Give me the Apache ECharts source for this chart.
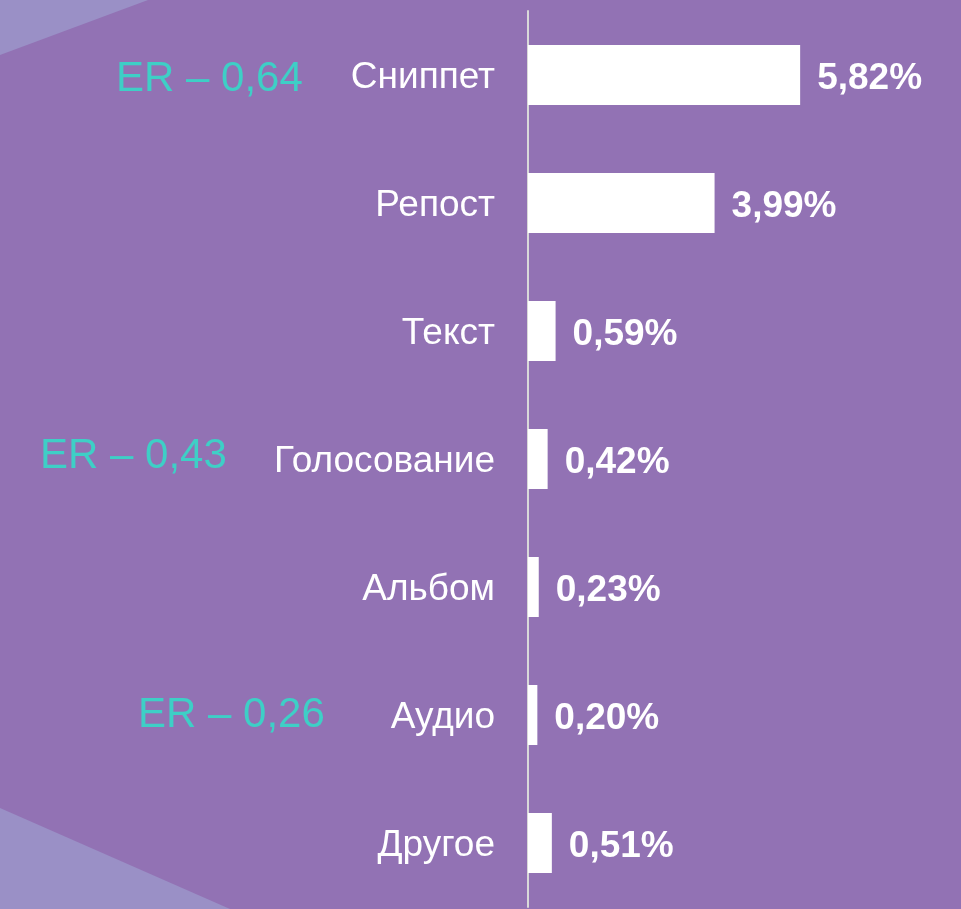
<!DOCTYPE html>
<html>
<head>
<meta charset="utf-8">
<script src="https://cdn.jsdelivr.net/npm/echarts@6/dist/echarts.min.js"></script>
<style>
  html, body { margin: 0; padding: 0; background: #9272b4; }
  #chart { width: 961px; height: 909px; }
</style>
</head>
<body>
<div id="chart"></div>
<script>
// категории и значения
var categories = ['Сниппет', 'Репост', 'Текст', 'Голосование', 'Альбом', 'Аудио', 'Другое']
var shares = [5.82, 3.99, 0.59, 0.42, 0.23, 0.20, 0.51]
// ER подписи слева
var erCategories = ['Сниппет', 'Голосование', 'Аудио']
var erValues = [0.64, 0.43, 0.26]

var chart = echarts.init(document.getElementById('chart'))
var fmt = function (v) { return v.toFixed(2).replace('.', ',') }

chart.setOption({
  backgroundColor: '#9272b4',
  animation: false,
  grid: { left: 528, top: 11, right: 0, height: 896 },
  xAxis: {
    type: 'value',
    min: 0,
    max: 9.26,
    show: false
  },
  yAxis: {
    type: 'category',
    data: categories,
    inverse: true,
    axisLine: { show: true, lineStyle: { color: '#d9d9d9', width: 2 } },
    axisTick: { show: false },
    axisLabel: {
      color: '#ffffff',
      fontSize: 37,
      fontFamily: 'Liberation Sans',
      margin: 33,
      formatter: '{a|{value}}',
      rich: {
        a: { color: '#ffffff', fontSize: 37, fontFamily: 'Liberation Sans', padding: [5, 0, 0, 0] }
      }
    }
  },
  series: [{
    type: 'bar',
    data: shares,
    barWidth: 60,
    itemStyle: { color: '#ffffff' },
    label: {
      show: true,
      position: 'right',
      distance: 17,
      offset: [0, 4],
      color: '#ffffff',
      fontSize: 37,
      fontWeight: 'bold',
      fontFamily: 'Liberation Sans',
      formatter: function (p) { return fmt(p.value) + '%' }
    }
  }]
})

// фон: светлые треугольники и ER
var erX = [116, 40, 138]
var erDy = [4, -3, 0]
var elements = [
  { type: 'polygon', z: -1, shape: { points: [[0, 0], [148, 0], [0, 55]] }, style: { fill: '#9a90c6' } },
  { type: 'polygon', z: -1, shape: { points: [[0, 808], [230, 909], [0, 909]] }, style: { fill: '#9a90c6' } }
]
erCategories.forEach(function (c, i) {
  var y = chart.convertToPixel({ yAxisIndex: 0 }, c)
  elements.push({
    type: 'text',
    x: erX[i],
    y: y + erDy[i],
    style: {
      text: 'ER – ' + fmt(erValues[i]),
      fill: '#3ecfc6',
      fontSize: 42,
      fontFamily: 'Liberation Sans',
      verticalAlign: 'middle'
    }
  })
})
chart.setOption({ graphic: elements })
</script>
</body>
</html>
